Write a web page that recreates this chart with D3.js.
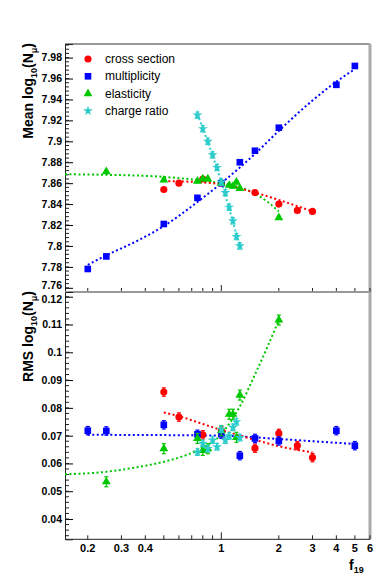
<!DOCTYPE html>
<html>
<head>
<meta charset="utf-8">
<script src="https://cdn.jsdelivr.net/npm/d3@7"></script>
<style>
body { margin: 0; background: #fff; }
text { font-family: "Liberation Sans", Arial, sans-serif; }
</style>
</head>
<body>
<div id="content"></div>
<script>
// values
var fXsec = [0.5, 0.6, 0.8, 1, 1.5, 2, 2.5, 3];
var meanXsec = [7.854, 7.860, 7.864, 7.860, 7.851, 7.840, 7.834, 7.833];
var rmsXsec = [0.0857, 0.0767, 0.0703, 0.0718, 0.0655, 0.0708, 0.0664, 0.0621];

var fMult = [0.2, 0.25, 0.5, 0.75, 1, 1.25, 1.5, 2, 4, 5];
var meanMult = [7.778, 7.790, 7.821, 7.846, 7.860, 7.880, 7.891, 7.913, 7.954, 7.972];
var rmsMult = [0.0718, 0.0717, 0.0739, 0.0705, 0.0705, 0.0628, 0.0690, 0.0681, 0.0718, 0.0664];

var fElast = [0.25, 0.5, 0.75, 0.8, 0.85, 1, 1.1, 1.15, 1.2, 1.25, 2];
var meanElast = [7.871, 7.863, 7.862, 7.864, 7.864, 7.860, 7.858, 7.857, 7.861, 7.855, 7.827];
var rmsElast = [0.0534, 0.0653, 0.0690, 0.0647, 0.0653, 0.0718, 0.0777, 0.0777, 0.0694, 0.0846, 0.1116];

var fCharge = [0.75, 0.8, 0.85, 0.9, 0.95, 1, 1.05, 1.1, 1.15, 1.2, 1.25];
var meanCharge = [7.925, 7.912, 7.900, 7.887, 7.875, 7.861, 7.851, 7.837, 7.824, 7.809, 7.800];
var rmsCharge = [0.0641, 0.0672, 0.0653, 0.0684, 0.0660, 0.0723, 0.0684, 0.0699, 0.0730, 0.0750, 0.0693];

// error bars
var errMean = {xsec: 0.0012, mult: 0.0012, elast: 0.0015, charge: 0.003};
var errRms = {xsec: 0.0015, mult: 0.0015, elast: 0.0018, charge: 0.0012};

// fit curves
var fitMeanXsec = [[0.5, 7.862], [0.75, 7.861], [1, 7.859], [1.5, 7.851], [2, 7.844], [2.5, 7.838], [3, 7.833]];
var fitMeanMult = [[0.2, 7.782], [0.25, 7.791], [0.373, 7.806], [0.5, 7.819], [0.75, 7.842], [1, 7.860], [1.5, 7.888], [2, 7.910], [3, 7.939], [4, 7.957], [5, 7.969]];
var fitMeanElast = [[0.152, 7.8685], [0.25, 7.868], [0.5, 7.866], [0.75, 7.863], [1, 7.860], [1.25, 7.856], [1.5, 7.850], [1.75, 7.842], [2, 7.833]];
var fitMeanCharge = [[0.75, 7.926], [1, 7.861], [1.25, 7.799]];

var fitRmsXsec = [[0.5, 0.0783], [0.6, 0.0770], [0.8, 0.0742], [1, 0.0720], [1.5, 0.0685], [2, 0.0662], [3, 0.0640]];
var fitRmsMult = [[0.2, 0.0703], [0.5, 0.0702], [1, 0.0700], [2, 0.0688], [3, 0.0680], [5, 0.0670]];
var fitRmsElast = [[0.152, 0.0561], [0.25, 0.0570], [0.373, 0.0588], [0.5, 0.0606], [0.75, 0.0648], [1, 0.0706], [1.25, 0.0805], [1.5, 0.0920], [1.75, 0.1022], [2, 0.1116]];

var legendLabels = ["cross section", "multiplicity", "elasticity", "charge ratio"];
var xTickValues = [0.2, 0.3, 0.4, 0.5, 0.6, 0.7, 0.8, 0.9, 1, 2, 3, 4, 5, 6];
var xTickLabels = [0.2, 0.3, 0.4, 1, 2, 3, 4, 5, 6];

var w = 374,
    h = 584,
    left = 65,
    right = 370;

var colors = {xsec: "#ff0000", mult: "#0000ff", elast: "#00c800", charge: "#2ccccc"};

var svg = d3.select("#content")
    .append("svg")
    .attr("width", w)
    .attr("height", h);

var x = d3.scaleLog().domain([0.152, 6]).range([left, right]);
var yTop = d3.scaleLinear().domain([7.756, 7.993]).range([292, 44]);
var yBot = d3.scaleLinear().domain([0.0327, 0.1217]).range([539.3, 292]);

function fmt(d) { return String(+d.toFixed(3)); }

function panel(y, top, bottom, majors, minorStep, title, showLabels, edgeShift) {
    var g = svg.append("g");
    // frame
    g.append("line").attr("x1", left).attr("x2", right).attr("y1", top).attr("y2", top)
        .attr("stroke", "#999").attr("stroke-width", 2);
    g.append("line").attr("x1", right).attr("x2", right).attr("y1", top).attr("y2", bottom)
        .attr("stroke", "#aaa").attr("stroke-width", 3);

    // y axis
    var ya = d3.axisLeft(y).tickValues(majors).tickSize(-8).tickPadding(3).tickFormat(fmt);
    var yg = g.append("g").attr("transform", "translate(" + left + ",0)").call(ya);
    yg.select(".domain").attr("stroke", "#222");
    yg.selectAll("text").attr("font-size", 10.5).attr("font-weight", "bold").attr("fill", "#000");
    // the labels at the panel joint sit very close: nudge them apart
    yg.selectAll(".tick text").filter(function(d) { return d === edgeShift[0]; })
        .attr("dy", edgeShift[1]);
    var dom = y.domain();
    var minors = d3.range(Math.ceil(dom[0] / minorStep - 1e-6), Math.floor(dom[1] / minorStep + 1e-6) + 1)
        .map(function(k) { return k * minorStep; });
    g.selectAll(".ymin").data(minors).enter().append("line")
        .attr("x1", left).attr("x2", left + 4)
        .attr("y1", function(d) { return y(d); }).attr("y2", function(d) { return y(d); })
        .attr("stroke", "#222");

    // x axis (ticks inside)
    g.append("line").attr("x1", left).attr("x2", right).attr("y1", bottom).attr("y2", bottom)
        .attr("stroke", "#222");
    g.selectAll(".xt").data(xTickValues).enter().append("line")
        .attr("x1", function(d) { return x(d); }).attr("x2", function(d) { return x(d); })
        .attr("y1", bottom).attr("y2", function(d) { return d === 1 ? bottom - 7 : bottom - 4; })
        .attr("stroke", "#222");
    if (showLabels) {
        g.selectAll(".xl").data(xTickLabels).enter().append("text")
            .attr("x", function(d) { return x(d); })
            .attr("y", bottom + 13)
            .attr("text-anchor", "middle")
            .attr("font-size", 11).attr("font-weight", "bold")
            .text(function(d) { return d; });
    }

    // y title
    var t = g.append("text")
        .attr("transform", "translate(33," + (top - 1) + ") rotate(-90)")
        .attr("text-anchor", "end")
        .attr("font-size", 14).attr("font-weight", "bold");
    t.append("tspan").text(title + " log");
    t.append("tspan").attr("font-size", 9).attr("dy", 4).text("10");
    t.append("tspan").attr("dy", -4).text("(N");
    t.append("tspan").attr("font-size", 9).attr("dy", 4).text("\u03bc");
    t.append("tspan").attr("dy", -4).text(")");
    return g;
}

var lineGen = function(y) {
    return d3.line().x(function(d) { return x(d[0]); }).y(function(d) { return y(d[1]); })
        .curve(d3.curveMonotoneX);
};

function fit(g, y, pts, color) {
    g.append("path").attr("d", lineGen(y)(pts))
        .attr("fill", "none").attr("stroke", color)
        .attr("stroke-width", 2).attr("stroke-dasharray", "2,2.5");
}

var shapes = {xsec: d3.symbolCircle, mult: d3.symbolSquare, elast: d3.symbolTriangle, charge: d3.symbolStar};
var sizes = {xsec: 40, mult: 44, elast: 34, charge: 30};

function series(g, y, fs, vals, key, err) {
    var pts = fs.map(function(f, i) { return {f: f, v: vals[i]}; });
    var c = colors[key];
    var eg = g.append("g").attr("stroke", c).attr("stroke-width", 1.2);
    pts.forEach(function(d) {
        var px = x(d.f), y0 = y(d.v - err), y1 = y(d.v + err);
        eg.append("line").attr("x1", px).attr("x2", px).attr("y1", y0).attr("y2", y1);
        eg.append("line").attr("x1", px - 2).attr("x2", px + 2).attr("y1", y0).attr("y2", y0);
        eg.append("line").attr("x1", px - 2).attr("x2", px + 2).attr("y1", y1).attr("y2", y1);
    });
    g.selectAll(".m-" + key).data(pts).enter().append("path")
        .attr("d", d3.symbol().type(shapes[key]).size(sizes[key]))
        .attr("transform", function(d) { return "translate(" + x(d.f) + "," + y(d.v) + ")"; })
        .attr("fill", c);
}

// top panel: mean
var gTop = panel(yTop, 44, 292, d3.range(0, 12).map(function(k) { return 7.76 + k * 0.02; }), 0.004, "Mean", false, [7.76, "0.1em"]);
fit(gTop, yTop, fitMeanMult, colors.mult);
fit(gTop, yTop, fitMeanElast, colors.elast);
fit(gTop, yTop, fitMeanXsec, colors.xsec);
fit(gTop, yTop, fitMeanCharge, colors.charge);
series(gTop, yTop, fXsec, meanXsec, "xsec", errMean.xsec);
series(gTop, yTop, fMult, meanMult, "mult", errMean.mult);
series(gTop, yTop, fElast, meanElast, "elast", errMean.elast);
series(gTop, yTop, fCharge, meanCharge, "charge", errMean.charge);

// bottom panel: rms
var gBot = panel(yBot, 292, 539.3, d3.range(0, 9).map(function(k) { return 0.04 + k * 0.01; }), 0.002, "RMS", true, [0.12, "0.55em"]);
fit(gBot, yBot, fitRmsMult, colors.mult);
fit(gBot, yBot, fitRmsXsec, colors.xsec);
fit(gBot, yBot, fitRmsElast, colors.elast);
series(gBot, yBot, fXsec, rmsXsec, "xsec", errRms.xsec);
series(gBot, yBot, fMult, rmsMult, "mult", errRms.mult);
series(gBot, yBot, fElast, rmsElast, "elast", errRms.elast);
series(gBot, yBot, fCharge, rmsCharge, "charge", errRms.charge);

// legend
var keys = ["xsec", "mult", "elast", "charge"];
var lg = svg.append("g");
keys.forEach(function(k, i) {
    var ly = 59 + i * 17.3;
    lg.append("path")
        .attr("d", d3.symbol().type(shapes[k]).size(sizes[k]))
        .attr("transform", "translate(88," + ly + ")")
        .attr("fill", colors[k]);
    lg.append("text").attr("x", 105).attr("y", ly + 4)
        .attr("font-size", 12).text(legendLabels[i]);
});

// x title
var xt = svg.append("text").attr("x", 349).attr("y", 570)
    .attr("font-size", 14).attr("font-weight", "bold");
xt.append("tspan").text("f");
xt.append("tspan").attr("font-size", 9).attr("dy", 3).text("19");
</script>
</body>
</html>
